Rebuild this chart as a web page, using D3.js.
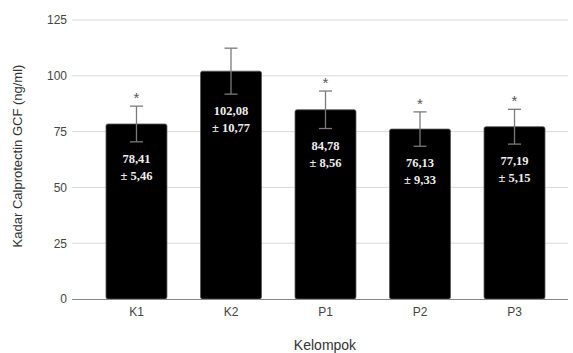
<!DOCTYPE html>
<html><head><meta charset="utf-8">
<script src="https://cdn.jsdelivr.net/npm/d3@7"></script>
<style>body{margin:0;background:#fff}svg{display:block}</style>
</head><body>
<svg id="c" width="573" height="353"></svg>
<script>
const categories = ["K1","K2","P1","P2","P3"];
const means = [78.41, 102.08, 84.78, 76.13, 77.19];
const errors = [8.0, 10.3, 8.4, 7.7, 7.8];
const labelLine1 = ["78,41","102,08","84,78","76,13","77,19"];
const labelLine2 = ["± 5,46","± 10,77","± 8,56","± 9,33","± 5,15"];
const significant = [true, false, true, true, true];
const yTicks = [0,25,50,75,100,125];

(function(){
const svg = d3.select("#c");
const mLeft = 72, mRight = 568, mTop = 20, mBottom = 299;
const y = d3.scaleLinear().domain([0,125]).range([mBottom, mTop]);
const x = d3.scaleBand().domain(categories).range([89, 562]).paddingInner(0.355).paddingOuter(0.18);

// grid
svg.append("g").selectAll("line").data(yTicks.filter(d=>d>0)).join("line")
  .attr("x1", mLeft).attr("x2", mRight).attr("y1", d=>y(d)).attr("y2", d=>y(d))
  .attr("stroke", "#d9d9d9").attr("stroke-width", 1);

// y axis labels
const ya = svg.append("g").attr("transform", `translate(${mLeft},0)`)
  .call(d3.axisLeft(y).tickValues(yTicks).tickSize(0).tickPadding(5));
ya.select(".domain").remove();
ya.selectAll("text").attr("font-family","Liberation Sans, Arial, sans-serif").attr("font-size",12).attr("fill","#444");

// bars
svg.append("g").selectAll("rect").data(categories).join("rect")
  .attr("x", d=>x(d)).attr("width", x.bandwidth())
  .attr("y", (d,i)=>y(means[i])).attr("height", (d,i)=>mBottom - y(means[i]))
  .attr("rx", 2).attr("fill", "#000").attr("stroke", "#555").attr("stroke-width", 0.8);

// x axis
const xa = svg.append("g").attr("transform", `translate(0,${mBottom})`)
  .call(d3.axisBottom(x).tickSize(0).tickPadding(8));
xa.select(".domain").remove();
xa.selectAll("text").attr("font-family","Liberation Sans, Arial, sans-serif").attr("font-size",12).attr("fill","#444");
svg.append("line").attr("x1", mLeft).attr("x2", mRight).attr("y1", mBottom+0.5).attr("y2", mBottom+0.5)
  .attr("stroke", "#888").attr("stroke-width", 1);

// error bars
const eb = svg.append("g").attr("stroke", "#7a7a7a").attr("stroke-width", 1.3);
categories.forEach((c,i)=>{
  const cx = x(c) + x.bandwidth()/2;
  const hi = y(means[i]+errors[i]), lo = y(means[i]-errors[i]);
  eb.append("line").attr("x1",cx).attr("x2",cx).attr("y1",hi).attr("y2",lo);
  eb.append("line").attr("x1",cx-6.5).attr("x2",cx+6.5).attr("y1",hi).attr("y2",hi);
  eb.append("line").attr("x1",cx-6.5).attr("x2",cx+6.5).attr("y1",lo).attr("y2",lo);
  if (significant[i]) {
    svg.append("text").attr("x",cx).attr("y",hi-3).attr("text-anchor","middle")
      .attr("font-family","Liberation Sans, Arial, sans-serif").attr("font-size",15).attr("fill","#555").text("*");
  }
  const ly = lo + 16;
  svg.append("text").attr("x",cx).attr("y",ly+5).attr("text-anchor","middle")
    .attr("font-family","Liberation Serif, Times New Roman, serif").attr("font-weight","bold")
    .attr("font-size",12.5).attr("fill","#eee").text(labelLine1[i]);
  svg.append("text").attr("x",cx).attr("y",ly+22).attr("text-anchor","middle")
    .attr("font-family","Liberation Serif, Times New Roman, serif").attr("font-weight","bold")
    .attr("font-size",12.5).attr("fill","#eee").text(labelLine2[i]);
});

// axis titles
svg.append("text").attr("transform", `translate(22,156) rotate(-90)`)
  .attr("text-anchor","middle").attr("font-family","Liberation Sans, Arial, sans-serif")
  .attr("font-size",13).attr("fill","#333").text("Kadar Calprotectin GCF (ng/ml)");
svg.append("text").attr("x",325).attr("y",350).attr("text-anchor","middle")
  .attr("font-family","Liberation Sans, Arial, sans-serif")
  .attr("font-size",14).attr("fill","#333").text("Kelompok");
})();
</script>
</body></html>
